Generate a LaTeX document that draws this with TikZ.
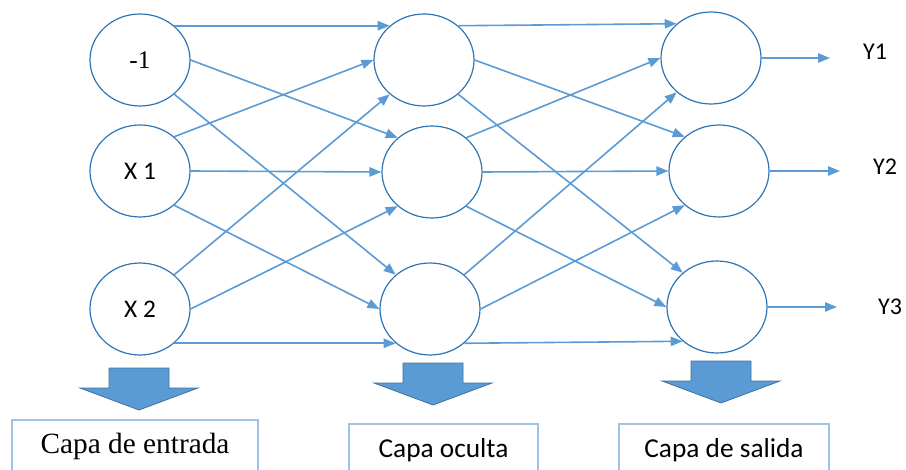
\documentclass[tikz,border=0pt]{standalone}
\usepackage{fontspec}
\setmainfont{Liberation Serif}
\newfontfamily\calibri{Carlito}
\usetikzlibrary{arrows.meta,shapes.geometric}
\definecolor{linkblue}{HTML}{5B9BD5}
\definecolor{ringblue}{HTML}{2E75B6}
\definecolor{boxblue}{HTML}{9DC3E6}
\definecolor{edgeblue}{HTML}{41719C}

\begin{document}
\begin{tikzpicture}[x=0.75pt,y=-0.75pt,
  neuron/.style={draw=ringblue,line width=0.9pt,ellipse,minimum width=75pt,minimum height=69pt,inner sep=0pt,font=\calibri\fontsize{19}{22}\selectfont},
  link/.style={draw=linkblue,line width=1.2pt,-{Triangle[length=9pt,width=7pt]}},
  layer/.style={draw=boxblue,line width=1.3pt,anchor=north,minimum height=40pt,inner sep=0pt},
  bigarrow/.style={fill=linkblue,draw=edgeblue,line width=0.6pt}]
\clip (0,0) rectangle (906,470);
% capa de entrada
\node[neuron,font=\fontsize{19}{22}\selectfont] (in1) at (140,60) {-1};
\node[neuron] (in2) at (140,171) {X 1};
\node[neuron] (in3) at (140,309) {X 2};
% capa oculta
\node[neuron] (hid1) at (424,60) {};
\node[neuron] (hid2) at (432,172) {};
\node[neuron] (hid3) at (430,309) {};
% capa de salida
\node[neuron] (out1) at (711,58) {};
\node[neuron] (out2) at (719,171) {};
\node[neuron] (out3) at (717,307) {};
% conexiones
\foreach \i/\ta in {1/135,2/180,3/-135}
  \foreach \j/\sa in {1/45,2/0,3/-45}
  {
    \draw[link] (in\i.\sa) -- (hid\j.\ta);
    \draw[link] (hid\i.\sa) -- (out\j.\ta);
  }
% salidas
\coordinate (e1) at (830,58);
\coordinate (e2) at (840,171);
\coordinate (e3) at (837,307);
\foreach \k in {1,2,3}
  \draw[link] (out\k.east) -- (e\k);
\node[font=\calibri\fontsize{18}{21}\selectfont] (y1) at (875,52) {Y1};
\node[font=\calibri\fontsize{18}{21}\selectfont] (y2) at (885,167) {Y2};
\node[font=\calibri\fontsize{18}{21}\selectfont] (y3) at (890,307) {Y3};
% flechas de bloque
\foreach \cx/\ty in {139/368,433/363,721/361}
  \draw[bigarrow] (\cx-30,\ty) -- (\cx+30,\ty) -- (\cx+30,\ty+20) -- (\cx+59,\ty+20)
    -- (\cx,\ty+42) -- (\cx-59,\ty+20) -- (\cx-30,\ty+20) -- cycle;
% rotulos
\node[layer,minimum width=184.5pt,font=\fontsize{22}{26}\selectfont] (entrada) at (135,419) {Capa de entrada};
\node[layer,minimum width=141.75pt,font=\calibri\fontsize{20.5}{24}\selectfont] (oculta) at (443.5,423) {Capa oculta};
\node[layer,minimum width=157.5pt,font=\calibri\fontsize{20.5}{24}\selectfont] (salida) at (724,423) {Capa de salida};
\end{tikzpicture}
\end{document}
